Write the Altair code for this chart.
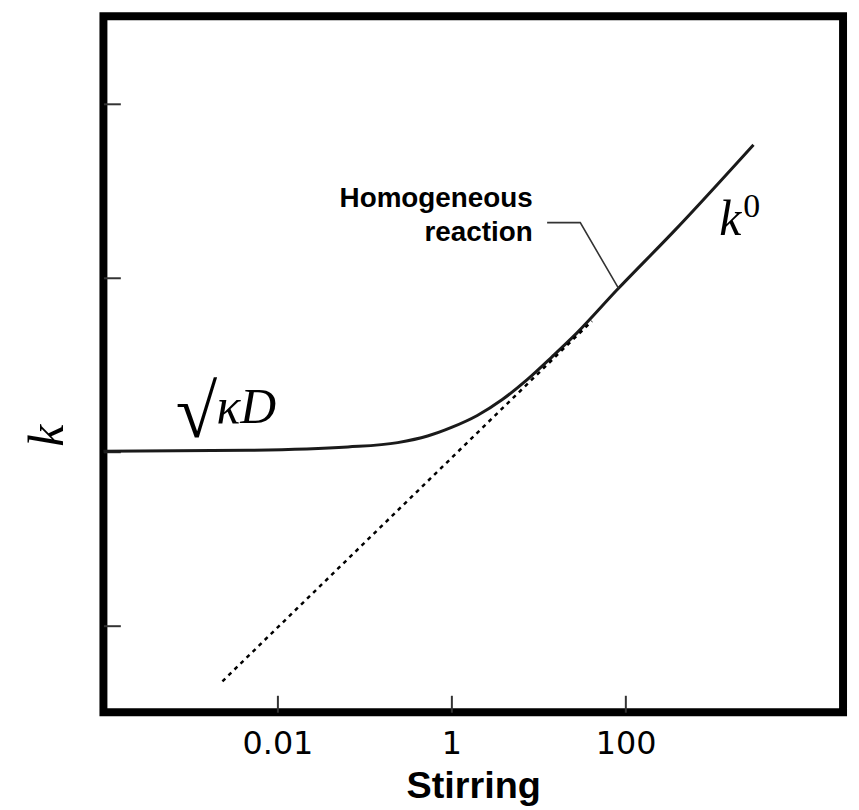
import altair as alt
import pandas as pd

# main curve: stirring vs rate constant k
stir = [1e-4, 0.0046, 0.0644, 0.241, 0.531, 1.0, 1.98, 3.84, 7.41, 14.3, 27.7, 79.5, 368, 2950]
rate = [1.0, 1.013, 1.058, 1.121, 1.223, 1.371, 1.606, 1.983, 2.58, 3.49, 4.79, 8.44, 18.6, 57.7]

# dotted asymptote (k0)
asym_stir = [0.00233, 41.1]
asym_rate = [0.0476, 5.60]

# leader line of the "Homogeneous reaction" label
leader_stir = [12.56, 30.2, 83.2]
leader_rate = [20.6, 20.6, 8.63]

# labels
homog_text = ["Homogeneous", "reaction"]
homog_stir = [8.6, 8.6]
homog_rate = [25.5, 16.1]

x_ticks = [0.01, 1, 100]
y_ticks = [0.1, 1, 10, 100]

xs = alt.Scale(type="log", domain=[1e-4, 10 ** 4.5])
ys = alt.Scale(type="log", domain=[10 ** -1.5, 10 ** 2.5])

xax = alt.Axis(values=x_ticks, format=".2~f", grid=False, domain=False,
               offset=-17, tickSize=17, tickWidth=2, tickColor="#333",
               labelFont="DejaVu Sans", labelFontSize=32, labelColor="black",
               labelPadding=17, title="Stirring", titleFont="Liberation Sans",
               titleFontSize=38, titleFontWeight="bold", titleColor="black",
               titleBaseline="alphabetic", titleY=103)
yax = alt.Axis(values=y_ticks, labels=False, grid=False, domain=False,
               offset=-17, tickSize=17, tickWidth=2, tickColor="#333",
               title="k", titleFont="Liberation Serif", titleFontStyle="italic",
               titleFontWeight="normal", titleFontSize=50, titleColor="black",
               titleAngle=270, titleBaseline="alphabetic", titleAlign="center",
               titleX=-58, titleY=421.5)


def X(**kw):
    return alt.X("s:Q", scale=xs, axis=xax, **kw)


def Y(**kw):
    return alt.Y("k:Q", scale=ys, axis=yax, **kw)


curve_df = pd.DataFrame({"s": stir, "k": rate})
asym_df = pd.DataFrame({"s": asym_stir, "k": asym_rate})
leader_df = pd.DataFrame({"s": leader_stir, "k": leader_rate, "o": [0, 1, 2]})
homog_df = pd.DataFrame({"s": homog_stir, "k": homog_rate, "t": homog_text})
sqrt_df = pd.DataFrame({"s": [6.8e-4], "k": [1.21], "t": ["√"]})
kd_df = pd.DataFrame({"s": [0.00199], "k": [1.446], "t": ["κD"]})
k0_df = pd.DataFrame({"s": [1191], "k": [17.4], "t": ["k"]})
sup_df = pd.DataFrame({"s": [2261], "k": [22.1], "t": ["0"]})

curve = alt.Chart(curve_df).mark_line(color="#1a1a1a", strokeWidth=3, interpolate="monotone").encode(x=X(), y=Y())
asym = alt.Chart(asym_df).mark_line(color="black", strokeWidth=2.5, strokeDash=[4, 4.5]).encode(x=X(), y=Y())
leader = alt.Chart(leader_df).mark_line(color="#333", strokeWidth=1.6).encode(x=X(), y=Y(), order="o:Q")
homog = alt.Chart(homog_df).mark_text(font="Liberation Sans", fontWeight="bold", fontSize=28,
                                      align="right", baseline="alphabetic", color="black").encode(x=X(), y=Y(), text="t:N")
sqrt_t = alt.Chart(sqrt_df).mark_text(font="Liberation Serif", fontSize=76, align="left",
                                      baseline="alphabetic", color="black").encode(x=X(), y=Y(), text="t:N")
kd_t = alt.Chart(kd_df).mark_text(font="Liberation Serif", fontStyle="italic", fontSize=50, align="left",
                                  baseline="alphabetic", color="black").encode(x=X(), y=Y(), text="t:N")
k0_t = alt.Chart(k0_df).mark_text(font="Liberation Serif", fontStyle="italic", fontSize=50, align="left",
                                  baseline="alphabetic", color="black").encode(x=X(), y=Y(), text="t:N")
sup_t = alt.Chart(sup_df).mark_text(font="Liberation Serif", fontSize=34, align="left",
                                    baseline="alphabetic", color="black").encode(x=X(), y=Y(), text="t:N")

chart = alt.layer(curve, asym, leader, homog, sqrt_t, kd_t, k0_t, sup_t).properties(
    width=744, height=700,
    autosize=alt.AutoSizeParams(type="none"),
    padding={"left": 96, "top": 6, "right": 8, "bottom": 92},
    background="white",
).configure_view(stroke="black", strokeWidth=8)

chart.save("out.html", embed_options={"renderer": "svg", "actions": False})
